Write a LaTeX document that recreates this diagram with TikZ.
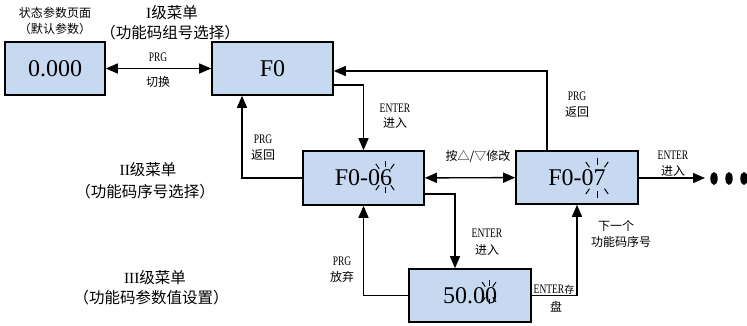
\documentclass[tikz,border=0pt]{standalone}
\usepackage{fontspec}
\setmainfont{Liberation Serif}
\newfontfamily\cjk{Noto Sans CJK SC}
\usepackage{graphicx}
\usepackage{tikz}
\usetikzlibrary{positioning,arrows.meta}

\definecolor{boxblue}{HTML}{C6D9F0}
\newcommand\zh[1]{{\cjk #1}}
\newcommand\tall[1]{\scalebox{0.95}[1.3]{#1}}
% flashing marks round the digit being edited
\newcommand\blinkmark[3]{\foreach \ang in {55,90,125,235,270,305}
  \draw[line width=1pt] (#1) ++(\ang:#2) -- ++(\ang:#3);}

\begin{document}
\begin{tikzpicture}[
  x=1pt,y=-1pt,
  box/.style={draw,line width=1.6pt,fill=boxblue,minimum height=53pt,
    inner sep=0pt,font=\fontsize{24}{26}\selectfont},
  lbl/.style={inner sep=0pt,font=\fontsize{10}{12}\selectfont},
  zhlbl/.style={inner sep=0pt,font=\fontsize{12}{14}\selectfont\cjk},
  title/.style={inner sep=0pt,font=\fontsize{15.5}{18}\selectfont},
  link/.style={line width=1.4pt},
  >={Triangle[length=12pt,width=10pt]}]
\useasboundingbox (0,0) rectangle (747,326);
% menu boxes
\node[box,minimum width=100pt] (st) at (55,68.5) {0.000};
\node[box,minimum width=121pt] (f0) at (272.5,68.5) {F0};
\node[box,minimum width=121pt,minimum height=54pt] (f06) at (363.5,178) {F0-06};
\node[box,minimum width=122pt] (f07) at (577,177.5) {F0-07};
\node[box,minimum width=122pt] (v50) at (470,295.5) {50.00};
\blinkmark{385,177}{10}{6}
\blinkmark{597,178}{13}{6.5}
\blinkmark{489,292}{6.5}{5.5}
% level titles
\node[zhlbl] (stt) at (55,13) {状态参数页面};
\node[zhlbl] (std) at (55,29) {（默认参数）};
\node[title] (t1) at (172,13) {I\zh{级菜单}};
\node[title,font=\fontsize{15.5}{18}\selectfont\cjk] (t1d) at (170,33) {（功能码组号选择）};
\node[title] (t2) at (148,170) {II\zh{级菜单}};
\node[title,font=\fontsize{15.5}{18}\selectfont\cjk] (t2d) at (145,192) {（功能码序号选择）};
\node[title] (t3) at (155,278) {III\zh{级菜单}};
\node[title,font=\fontsize{15.5}{18}\selectfont\cjk] (t3d) at (151,298) {（功能码参数值设置）};
% connectors
\draw[link,<->] (st) -- (f0);
\node[lbl] (l1a) at (158,57) {\tall{PRG}};
\node[zhlbl] (l1b) at (158,82) {切换};
\draw[link,->] ([yshift=-16.5pt]f0.east) -| (f06.north);
\node[lbl] (l2a) at (395,108) {\tall{ENTER}};
\node[zhlbl] (l2b) at (395,123) {进入};
\draw[link,->] (f06.west) -| ([xshift=-30.5pt]f0.south);
\node[lbl] (l3a) at (263,139) {\tall{PRG}};
\node[zhlbl] (l3b) at (263,155) {返回};
\draw[link,<->] (f06) -- (f07);
\node[zhlbl] (l4) at (478,157) {按△/▽修改};
\draw[link,->] ([xshift=-30pt]f07.north) |- ([yshift=-2.5pt]f0.east);
\node[lbl] (l5a) at (577,96) {\tall{PRG}};
\node[zhlbl] (l5b) at (577,112) {返回};
\coordinate (more) at (705,178);
\draw[link,->] (f07.east |- more) -- (more);
\node[lbl] (l6a) at (673,155) {\tall{ENTER}};
\node[zhlbl] (l6b) at (673,171) {进入};
\foreach \dx in {714,729,744}
  \fill (\dx,178.5) ellipse [x radius=3.7pt,y radius=6.5pt];
\draw[link,->] ([yshift=-16pt]f06.east) -| ([xshift=-15pt]v50.north);
\node[lbl] (l7a) at (487,233) {\tall{ENTER}};
\node[zhlbl] (l7b) at (487,250) {进入};
\draw[link,->] (v50.west) -| (f06.south);
\node[lbl] (l8a) at (342,261) {\tall{PRG}};
\node[zhlbl] (l8b) at (342,277) {放弃};
\draw[link,->] (v50.east) -| (f07.south);
\node[lbl] (l9a) at (554,290) {\tall{ENTER}\zh{存}};
\node[zhlbl] (l9b) at (556,307) {盘};
\node[zhlbl] (l9c) at (616,226) {下一个};
\node[zhlbl] (l9d) at (621,242) {功能码序号};
\end{tikzpicture}
\end{document}
